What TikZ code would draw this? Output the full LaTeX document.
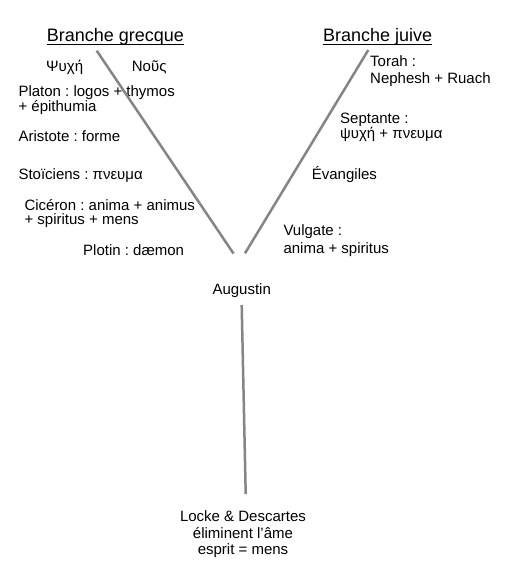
\documentclass[tikz,border=0pt]{standalone}
\usepackage{fontspec}
\setmainfont{Liberation Sans}[Ligatures=ResetAll]
\begin{document}
\frenchspacing
\begin{tikzpicture}[x=1pt,y=-1pt,
  txt/.style={anchor=base west, inner sep=0pt, font=\fontsize{15}{18}\selectfont},
  ctxt/.style={anchor=base, inner sep=0pt, font=\fontsize{15}{18}\selectfont},
  head/.style={anchor=base west, inner sep=0pt, font=\fontsize{18}{21}\selectfont},
  uline/.style={line width=1.1pt},
  branch/.style={draw=black!48, line width=2.5pt}]
\useasboundingbox (0,0) rectangle (506,578);
% headers
\node[head] (hgr) at (46.7,41.7) {Branche grecque};
\node[head] (hju) at (323,41.7) {Branche juive};
\draw[uline] ([yshift=-2.4pt]hgr.base west) -- ([yshift=-2.4pt]hgr.base east);
\draw[uline] ([yshift=-2.4pt]hju.base west) -- ([yshift=-2.4pt]hju.base east);
% greek side
\node[txt] (psy) at (46,71) {Ψυχή};
\node[txt] (nous) at (131.7,71) {Νοῦς};
\node[txt] (pla1) at (18.3,96) {Platon : logos + thymos};
\node[txt] (pla2) at (18.3,111) {+ épithumia};
\node[txt] (ari) at (18.3,141.7) {Aristote : forme};
\node[txt] (sto) at (18.3,179.3) {Stoïciens : πνευμα};
\node[txt] (cic1) at (24.3,210) {Cicéron : anima + animus};
\node[txt] (cic2) at (24.3,224.5) {+ spiritus + mens};
\node[txt] (plo) at (83,255) {Plotin : dæmon};
% jewish side
\node[txt] (tor1) at (370,66.7) {Torah :};
\node[txt] (tor2) at (370,83.3) {Nephesh + Ruach};
\node[txt] (sep1) at (340,123.3) {Septante :};
\node[txt] (sep2) at (340,138.3) {ψυχή + πνευμα};
\node[txt] (eva) at (311.7,179.3) {Évangiles};
\node[txt] (vul1) at (283.3,235) {Vulgate :};
\node[txt] (vul2) at (283.3,253.3) {anima + spiritus};
% bottom
\node[ctxt] (aug) at (241.7,294) {Augustin};
\node[ctxt] (loc1) at (243,521.7) {Locke \& Descartes};
\node[ctxt] (loc2) at (243,538.3) {éliminent l'âme};
\node[ctxt] (loc3) at (243,554) {esprit = mens};
% branches
\coordinate (gtop) at (96.7,50.7);
\coordinate (gbot) at (233.5,253.5);
\coordinate (jtop) at (368.3,50);
\coordinate (jbot) at (245,253.3);
\coordinate (vtop) at (241.7,305);
\coordinate (vbot) at (245.7,494);
\draw[branch] (gtop) -- (gbot);
\draw[branch] (jtop) -- (jbot);
\draw[branch] (vtop) -- (vbot);
\end{tikzpicture}
\end{document}
